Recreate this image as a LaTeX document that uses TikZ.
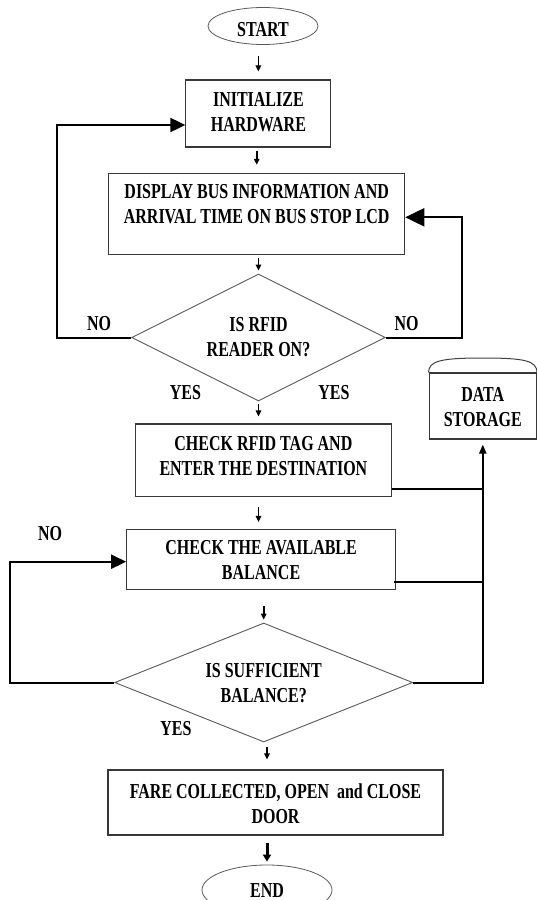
\documentclass[tikz,border=0pt]{standalone}
\usepackage{fontspec}
\setmainfont{Liberation Serif}
\usepackage{graphicx}
\usetikzlibrary{shapes.geometric,arrows.meta,calc}
\newcommand\vs[1]{\scalebox{1}[1.33]{\begin{tabular}{@{}c@{}}#1\end{tabular}}}
\begin{document}
\begin{tikzpicture}[x=1pt,y=-1pt,
  every node/.style={font=\fontsize{16}{18.8}\selectfont\bfseries, inner sep=0pt},
  box/.style={draw=black!78, line width=1.1pt, rectangle},
  term/.style={draw=black!65, line width=0.8pt, ellipse},
  dec/.style={draw=black!65, line width=0.9pt, diamond},
  sarrow/.style={line width=1.7pt, -{Triangle[length=6pt,width=5.5pt]}},
  loopline/.style={line width=2pt},
  looparrow/.style={line width=2pt, -{Triangle[length=15pt,width=14pt]}}
]
\useasboundingbox (0,0) rectangle (537,900);
\clip (0,0) rectangle (537,900);

% nodes (text placed as centre labels so that it can sit off-centre like the reference)
\node[term, minimum width=110pt, minimum height=37pt, label={[yshift=-5pt]center:\vs{START}}] (start) at (263,26) {};
\node[box, minimum width=145pt, minimum height=67pt, label={[yshift=-0.5pt]center:\vs{INITIALIZE\\HARDWARE}}] (init) at (258.4,113.5) {};
\node[box, minimum width=296pt, minimum height=81pt, label={[yshift=8.3pt]center:\vs{DISPLAY BUS INFORMATION AND\\ARRIVAL TIME ON BUS STOP LCD}}] (disp) at (256.7,213.8) {};
\node[dec, minimum width=253.5pt, minimum height=127pt, aspect=2, label={[yshift=-1pt]center:\vs{IS RFID\\READER ON?}}] (d1) at (258.5,337.5) {};
\node[box, minimum width=256pt, minimum height=72.7pt, label={[yshift=2.8pt]center:\vs{CHECK RFID TAG AND\\ENTER THE DESTINATION}}] (rfid) at (263.4,460.3) {};
\node[box, minimum width=107.5pt, minimum height=66pt, label={[yshift=-2.5pt]center:\vs{DATA\\STORAGE}}] (store) at (482.8,406) {};
\node[box, minimum width=268.8pt, minimum height=59.8pt, label={[yshift=-2.6pt]center:\vs{CHECK THE AVAILABLE\\BALANCE}}] (bal) at (261.1,559.4) {};
\node[dec, minimum width=298pt, minimum height=119pt, aspect=2.5, label={[yshift=-2.8pt]center:\vs{IS SUFFICIENT\\BALANCE?}}] (d2) at (263.7,682.5) {};
\node[box, minimum width=335pt, minimum height=65pt, label={[yshift=-3pt]center:\vs{FARE COLLECTED, OPEN~ and CLOSE\\DOOR}}] (fare) at (275.5,802.5) {};
\node[term, minimum width=130pt, minimum height=50pt, label={[yshift=-2pt]center:\vs{END}}] (end) at (267,890) {};

% cap of data storage
\draw[draw=black!75, line width=1pt] (store.north west) .. controls (429,361) and (440,358) .. (483,358) .. controls (526,358) and (536.5,361) .. (store.north east);

% labels
\node (no1) at (99,325) {\vs{NO}};
\node (no2) at (406.5,325) {\vs{NO}};
\node (yes1) at (185.5,394) {\vs{YES}};
\node (yes2) at (334,394) {\vs{YES}};
\node (no3) at (50,535.5) {\vs{NO}};
\node (yes3) at (176,730.3) {\vs{YES}};

% short arrows
\draw[sarrow, shorten <=11pt, shorten >=8pt] (start.south -| init.north) -- (init.north);
\draw[sarrow, shorten <=3pt, shorten >=8pt] (init.south -| disp.north) -- (disp.north);
\draw[sarrow, shorten <=3pt, shorten >=3pt] (disp.south -| d1.north) -- (d1.north);
\draw[sarrow, shorten <=3pt, shorten >=7pt] (d1.south) -- (d1.south |- rfid.north);
\draw[sarrow, shorten <=10pt, shorten >=7pt] (rfid.south -| d1.south) -- (d1.south |- bal.north);
\draw[sarrow, shorten <=16pt, shorten >=3pt] (bal.south -| d2.north) -- (d2.north);
\draw[sarrow, shorten <=5pt, shorten >=10pt] (end.north |- d2.south) -- (end.north |- fare.north);
\draw[line width=3pt, -{Triangle[length=7pt,width=8pt]}, shorten <=7pt, shorten >=3pt] (fare.south -| end.north) -- (end.north);

% left loop from d1 to init
\coordinate (l1) at (57.2,125);
\draw[looparrow] (d1.west) -| (l1) -- (l1 -| init.west);
% right loop from d1 to disp
\coordinate (r1) at (462.3,217.3);
\draw[line width=2pt, -{Triangle[length=19pt,width=18pt]}] (d1.east) -| (r1) -- (r1 -| disp.east);
% d2 left loop to bal
\coordinate (l2) at (9.5,561.7);
\draw[looparrow] (d2.west) -| (l2) -- (l2 -| bal.west);
% right collector to data storage
\draw[line width=2pt, -{Triangle[length=9pt,width=7pt]}, shorten >=5pt] (d2.east) -| (store.south);
\coordinate (ro) at ([yshift=-28.7pt]rfid.east);
\draw[loopline] (ro) -- (ro -| store.south);
\coordinate (bo) at ([yshift=-23pt,xshift=-2pt]bal.east);
\draw[loopline] (bo) -- (bo -| store.south);
\end{tikzpicture}
\end{document}
